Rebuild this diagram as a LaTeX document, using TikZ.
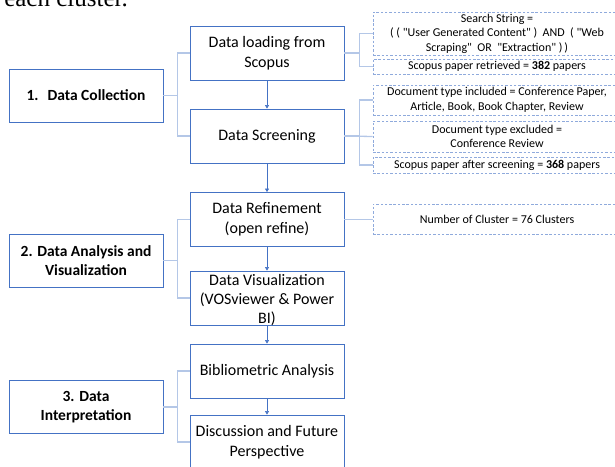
\documentclass[tikz,border=0pt]{standalone}
\usepackage{fontspec}
\setmainfont{Carlito}
\newfontfamily\plainfont{Carlito}
\newfontfamily\seriffont{Liberation Serif}
\usetikzlibrary{arrows.meta}
\definecolor{boxblue}{HTML}{4472C4}
\definecolor{connblue}{HTML}{B4C7E7}
\definecolor{dashblue}{HTML}{8FAADC}
\tikzset{
  lbox/.style={draw=boxblue, line width=0.9pt, minimum width=154pt, minimum height=53pt, inner sep=0pt, align=center, font=\bfseries\fontsize{15.5}{18.5}\selectfont},
  mbox/.style={draw=boxblue, line width=0.9pt, minimum width=154pt, minimum height=54pt, inner sep=0pt, align=center, font=\fontsize{16}{19.5}\selectfont},
  mtext/.style={inner sep=0pt, align=center, font=\fontsize{16}{19}\selectfont},
  dbox/.style={draw=dashblue, line width=0.8pt, dash pattern=on 2.5pt off 1.8pt, minimum width=248pt, inner sep=0pt, align=center, font=\plainfont\fontsize{12}{14.5}\selectfont},
  conn/.style={draw=connblue, line width=1.3pt},
  arr/.style={draw=boxblue, line width=0.6pt, -{Triangle[length=3.5pt,width=4pt]}},
}
\begin{document}
\begin{tikzpicture}[x=1pt,y=-1pt]
\useasboundingbox (0,0) rectangle (615,466);
\node[anchor=base east, font=\seriffont\fontsize{25}{25}\selectfont, inner sep=0pt] (top) at (128,6.5) {each cluster.};
% left boxes
\node[lbox] (L1) at (86,95.5) {1.\hspace{9pt}Data Collection};
\node[lbox] (L2) at (86,260.5) {2. Data Analysis and\\Visualization};
\node[lbox] (L3) at (86,407) {3. Data\\Interpretation};
% middle boxes
\node[mbox] (M1) at (267,53) {Data loading from\\Scopus};
\node[mbox] (M2) at (267,136) {Data Screening};
\node[mbox] (M3) at (267,219.5) {Data Refinement\\(open refine)};
\node[mbox] (M4) at (267,298) {};
\node[mtext] (M4t) at (267,300) {Data Visualization\\(VOSviewer \& Power\\BI)};
\node[mbox] (M5) at (267,371) {Bibliometric Analysis};
\node[mbox] (M6) at (267,442) {Discussion and Future\\Perspective};
% dashed boxes
\node[dbox, minimum height=43pt] (D1) at (497,33.5) {Search String =\\(\ (\ "User Generated Content"\ )\ \ AND\ \ (\ "Web\\Scraping"\ \ OR\ \ "Extraction"\ )\,)};
\node[dbox, minimum height=15pt] (D2) at (497,66.5) {Scopus paper retrieved = \textbf{382} papers};
\node[dbox, minimum height=30pt] (D3) at (497,100) {Document type included = Conference Paper,\\Article, Book, Book Chapter, Review};
\node[dbox, minimum height=31pt] (D4) at (497,136.5) {Document type excluded =\\Conference Review};
\node[dbox, minimum height=16pt] (D5) at (497,165) {Scopus paper after screening = \textbf{368} papers};
\node[dbox, minimum height=30pt] (D6) at (497,219) {Number of Cluster = 76 Clusters};
% left connectors
\draw[conn] (L1.east) -- ++(14,0) |- (M1.west);
\draw[conn] (L1.east) -- ++(14,0) |- (M2.west);
\draw[conn] (L2.east) -- ++(14,0) |- (M3.west);
\draw[conn] (L2.east) -- ++(14,0) |- (M4.west);
\draw[conn] (L3.east) -- ++(14,0) |- (M5.west);
\draw[conn] (L3.east) -- ++(14,0) |- (M6.west);
% right connectors
\draw[conn] (M1.east) -- ++(15,0) |- (D1.west);
\draw[conn] (M1.east) -- ++(15,0) |- (D2.west);
\draw[conn] (M2.east) -- ++(15,0) |- (D3.west);
\draw[conn] (M2.east) -- (D4.west);
\draw[conn] (M2.east) -- ++(15,0) |- (D5.west);
\draw[conn] (M3.east) -- (M3.east -| D6.west);
% arrows
\draw[arr] (M1) -- (M2);
\draw[arr] (M2) -- (M3);
\draw[arr] (M3) -- (M4);
\draw[arr] (M4) -- (M5);
\draw[arr] (M5) -- (M6);
\end{tikzpicture}
\end{document}
